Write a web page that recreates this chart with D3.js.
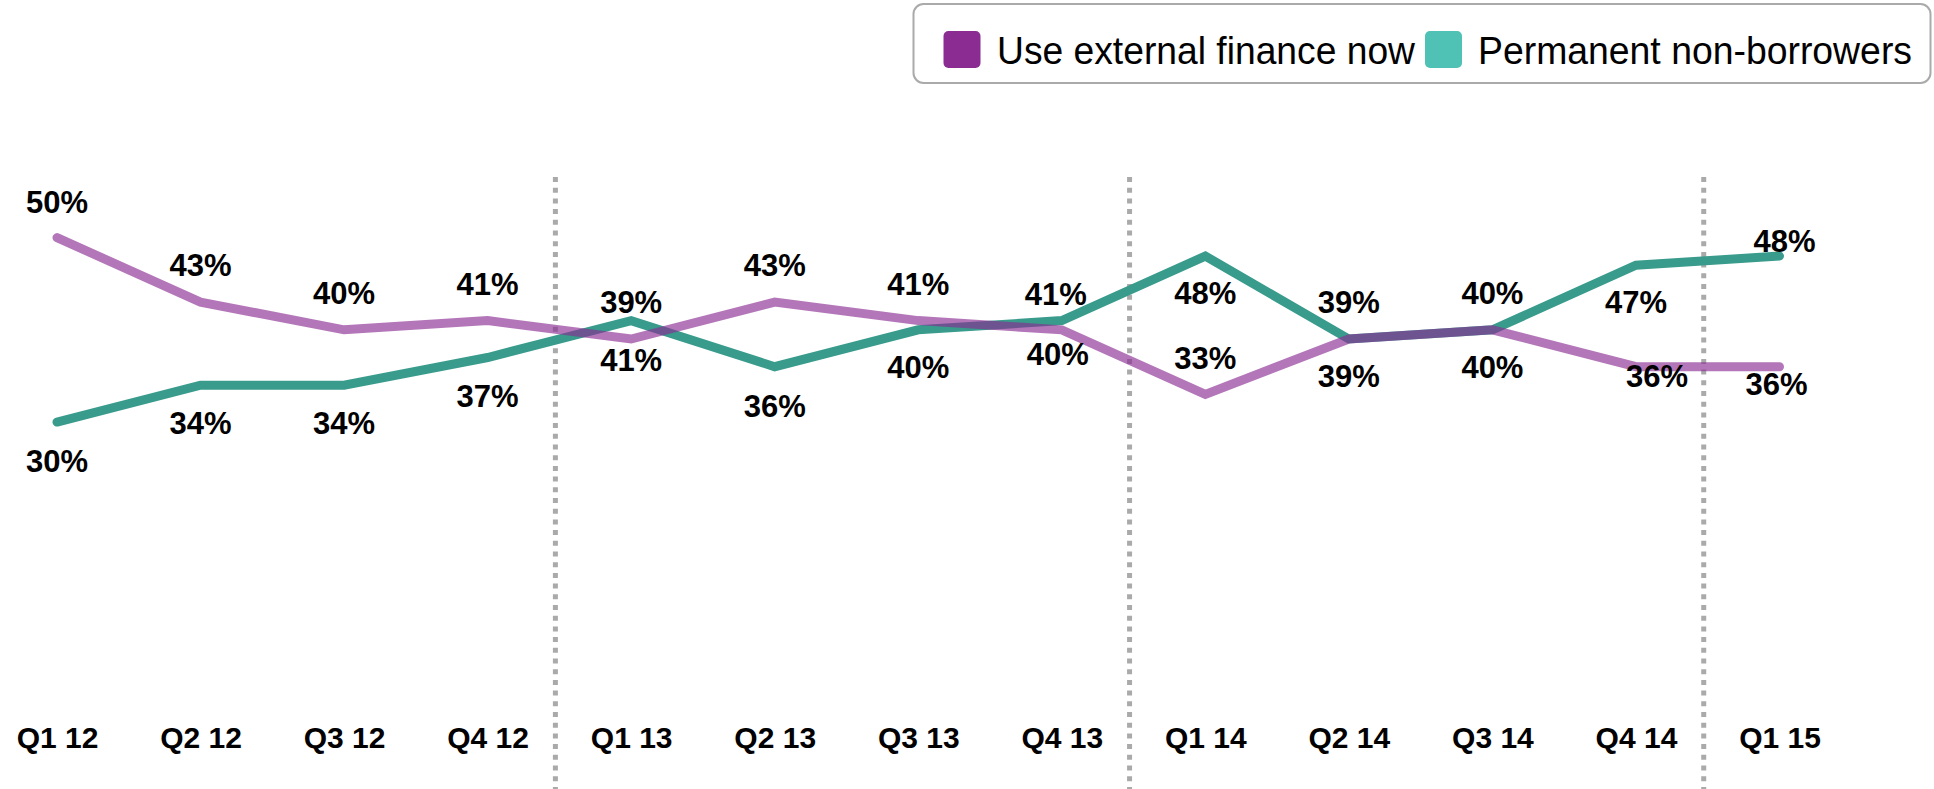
<!DOCTYPE html>
<html>
<head>
<meta charset="utf-8">
<script src="https://cdn.jsdelivr.net/npm/d3@7"></script>
<style>
  html, body { margin: 0; padding: 0; background: #ffffff; }
  svg { display: block; font-family: "Liberation Sans", Arial, Helvetica, sans-serif; }
</style>
</head>
<body>
<svg id="chart" width="1934" height="789"></svg>
<script>
// Quarterly share of SMEs (%)
const quarters = ["Q1 12", "Q2 12", "Q3 12", "Q4 12", "Q1 13", "Q2 13", "Q3 13",
                  "Q4 13", "Q1 14", "Q2 14", "Q3 14", "Q4 14", "Q1 15"];
const useExternalFinance    = [50, 43, 40, 41, 39, 43, 41, 40, 33, 39, 40, 36, 36];
const permanentNonBorrowers = [30, 34, 34, 37, 41, 36, 40, 41, 48, 39, 40, 47, 48];
const seriesNames = ["Use external finance now", "Permanent non-borrowers"];
// Year boundaries marked with dotted rules (after these quarters)
const yearEnds = ["Q4 12", "Q4 13", "Q4 14"];

// Value-label placement, in pixels relative to each point (baseline offset)
const financeLabelDy     = [-25, -26, -26, -26, -26, -26, -26, 35, -25, 48, -26, 20, 28];
const financeLabelDx     = [0, 0, 0, 0, 0, 0, 0, -4, 0, 0, 0, 21, -3];
const nonBorrowerLabelDy = [50, 49, 49, 50, 50, 50, 48, -16, 48, -26, 48, 48, -4];
const nonBorrowerLabelDx = [0, 0, 0, 0, 0, 0, 0, -6, 0, 0, 0, 0, 5];

const svg = d3.select("#chart");

const x = d3.scalePoint().domain(quarters).range([57, 1779.5]);
const y = d3.scaleLinear().domain([0, 50]).range([698.7, 237.6]);

const colors = {
  finance: "#8a2c92",
  nonBorrowers: "#389b8c",
  nonBorrowersSwatch: "#4fc1b5"
};

// Dotted year separators
const step = x.step();
svg.append("g")
  .selectAll("line")
  .data(yearEnds)
  .join("line")
  .attr("x1", d => x(d) + step / 2 - 4)
  .attr("x2", d => x(d) + step / 2 - 4)
  .attr("y1", 177)
  .attr("y2", 789)
  .attr("stroke", "#aaaaaa")
  .attr("stroke-width", 5)
  .attr("stroke-dasharray", "5,5.7");

// X axis (category labels only)
const xAxis = svg.append("g")
  .attr("transform", "translate(0,724)")
  .call(d3.axisBottom(x).tickSize(0).tickPadding(3));
xAxis.select(".domain").remove();
xAxis.selectAll("text")
  .attr("font-family", "'Liberation Sans', Arial, sans-serif")
  .attr("font-size", 30)
  .attr("font-weight", "bold")
  .attr("fill", "#000");

const line = d3.line()
  .x((d, i) => x(quarters[i]))
  .y(d => y(d));

// Permanent non-borrowers (drawn underneath)
svg.append("path")
  .datum(permanentNonBorrowers)
  .attr("d", line)
  .attr("fill", "none")
  .attr("stroke", colors.nonBorrowers)
  .attr("stroke-width", 9)
  .attr("stroke-linecap", "round")
  .attr("stroke-linejoin", "miter");

// Use external finance now (translucent, on top)
svg.append("path")
  .datum(useExternalFinance)
  .attr("d", line)
  .attr("fill", "none")
  .attr("stroke", colors.finance)
  .attr("stroke-opacity", 0.65)
  .attr("stroke-width", 9)
  .attr("stroke-linecap", "round")
  .attr("stroke-linejoin", "miter");

// Value labels
function drawLabels(values, dys, dxs) {
  svg.append("g")
    .selectAll("text")
    .data(values)
    .join("text")
    .attr("x", (d, i) => x(quarters[i]) + dxs[i])
    .attr("y", (d, i) => y(d) + dys[i])
    .attr("text-anchor", "middle")
    .attr("font-size", 31)
    .attr("font-weight", "bold")
    .attr("fill", "#000")
    .text(d => d + "%");
}
drawLabels(useExternalFinance, financeLabelDy, financeLabelDx);
drawLabels(permanentNonBorrowers, nonBorrowerLabelDy, nonBorrowerLabelDx);

// Legend
const legend = svg.append("g");
legend.append("rect")
  .attr("x", 913.5).attr("y", 4)
  .attr("width", 1017).attr("height", 79)
  .attr("rx", 10).attr("ry", 10)
  .attr("fill", "#fff")
  .attr("stroke", "#aaaaaa")
  .attr("stroke-width", 2);

const legendItems = [
  { name: seriesNames[0], color: colors.finance, sx: 943.5, tx: 997, w: 418 },
  { name: seriesNames[1], color: colors.nonBorrowersSwatch, sx: 1425, tx: 1478, w: 434 }
];
legend.selectAll("rect.swatch")
  .data(legendItems)
  .join("rect")
  .attr("class", "swatch")
  .attr("x", d => d.sx).attr("y", 31)
  .attr("width", 37).attr("height", 37)
  .attr("rx", 5).attr("ry", 5)
  .attr("fill", d => d.color);
legend.selectAll("text")
  .data(legendItems)
  .join("text")
  .attr("x", d => d.tx)
  .attr("y", 64)
  .attr("font-size", 38)
  .attr("textLength", d => d.w)
  .attr("lengthAdjust", "spacingAndGlyphs")
  .attr("fill", "#000")
  .text(d => d.name);
</script>
</body>
</html>
